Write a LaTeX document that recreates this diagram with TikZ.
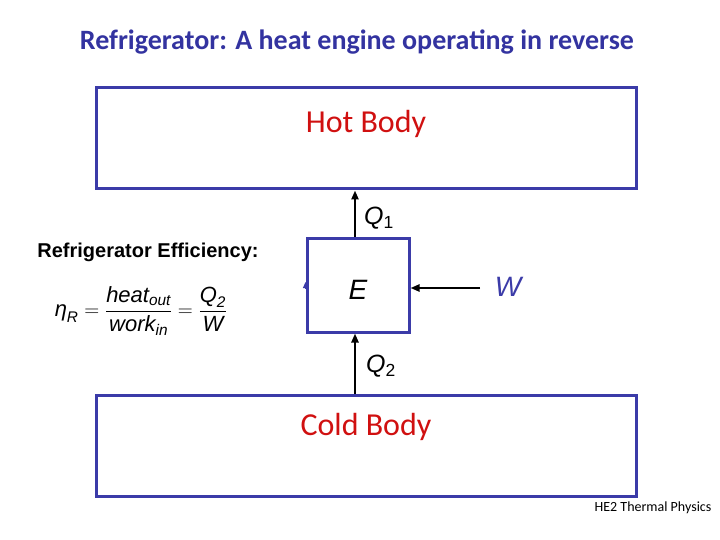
\documentclass[tikz,border=0pt]{standalone}
\usepackage{amsmath}
\usepackage{fontspec}
\usepackage{tikz}
\usetikzlibrary{positioning,arrows.meta}
\newfontfamily\calib{Carlito}
\newfontfamily\arial{Liberation Sans}
\definecolor{bdr}{HTML}{3B3BA8}
\definecolor{ttl}{HTML}{3333A0}
\definecolor{hot}{HTML}{D01010}
\tikzset{
  >={Triangle[length=9pt,width=7pt]},
  body/.style={draw=bdr, line width=3pt, minimum width=540pt, minimum height=101pt, inner sep=0pt},
  engine/.style={draw=bdr, line width=3pt, minimum width=102pt, minimum height=94pt, inner sep=0pt},
  bodytxt/.style={text=hot, font=\calib\fontsize{32}{36}\selectfont, inner sep=0pt},
  qlbl/.style={font=\arial\itshape\fontsize{25}{28}\selectfont, inner sep=0pt},
  biglbl/.style={font=\arial\itshape\fontsize{28}{32}\selectfont, inner sep=0pt},
  flow/.style={->, line width=2.5pt, draw=black},
}
\begin{document}
\begin{tikzpicture}[x=1pt,y=-1pt]
  \useasboundingbox (0,0) rectangle (720,540);
  \node[text=ttl,font=\calib\bfseries\fontsize{28}{32}\selectfont] (title) at (357,42) {Refrigerator: A heat engine operating in reverse};
  \node[body] (hotb) at (366,138.5) {};
  \node[bodytxt,below=24pt of hotb.north] (hotl) {Hot Body};
  \node[body] (cold) at (366,446) {};
  \node[bodytxt,below=19pt of cold.north] (coldl) {Cold Body};
  \node[engine] (eng) at (358,285) {};
  \node[biglbl] (elbl) at ([yshift=-5pt]eng.center) {E};
  \node[qlbl] (q1) at (379,218) {Q$_{\text{\upshape 1}}$};
  \node[qlbl] (q2) at (381,366) {Q$_{\text{\upshape 2}}$};
  \node[biglbl,text=bdr] (wlbl) at (508,287) {W};
  \coordinate (wstart) at (480,288);
  \draw[flow] ([xshift=-3pt]eng.north) -- ([xshift=-3pt]eng.north |- hotb.south);
  \draw[flow] ([xshift=-3pt]eng.south |- cold.north) -- ([xshift=-3pt]eng.south);
  \draw[flow] (wstart) -- (eng.east |- wstart);
  \draw[-{Triangle[length=6pt,width=5pt]},bdr,line width=1pt] ([yshift=-4pt]eng.west) -- ([yshift=3pt]eng.west);
  \node[font=\arial\bfseries\fontsize{20}{24}\selectfont] (efftxt) at (148,252) {Refrigerator Efficiency:};
  \node[font=\arial\itshape\fontsize{22}{26}\selectfont] (eff) at (141,311)
    {$\text{η}_{\text{R}} = \dfrac{\text{heat}_{\text{out}}}{\text{work}_{\text{in}}} = \dfrac{\text{Q}_{\text{2}}}{\text{W}}$};
  \node[font=\calib\fontsize{14}{16}\selectfont] (foot) at (653,508) {HE2 Thermal Physics};
\end{tikzpicture}
\end{document}
